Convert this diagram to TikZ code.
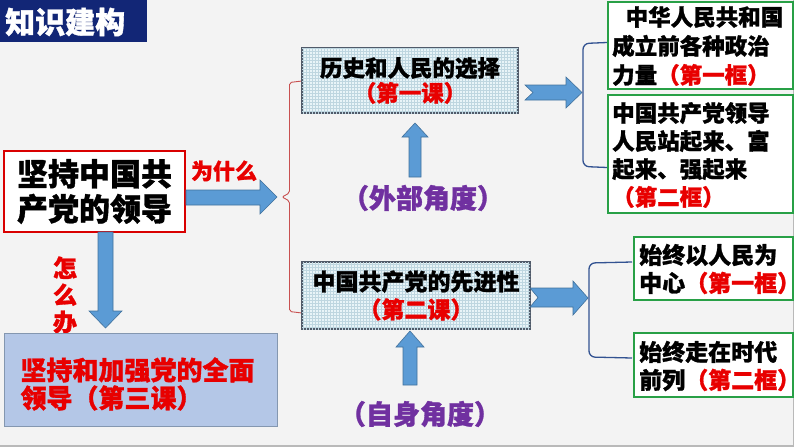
\documentclass[tikz,border=0pt]{standalone}
\usepackage{fontspec}
\setmainfont{Noto Sans CJK SC}[BoldFeatures={FakeBold=1.2}]
\usetikzlibrary{patterns}
\definecolor{bgcol}{RGB}{243,243,243}
\definecolor{navy}{RGB}{18,38,118}
\definecolor{myred}{RGB}{232,0,0}
\definecolor{mypurple}{RGB}{112,48,160}
\definecolor{afill}{RGB}{91,155,213}
\definecolor{abord}{RGB}{65,113,156}
\definecolor{mygreen}{RGB}{40,160,70}
\definecolor{bfill}{RGB}{180,199,231}
\definecolor{bbord}{RGB}{132,151,176}
\definecolor{lfill}{RGB}{232,244,248}
\definecolor{lgrid}{RGB}{190,214,224}
\definecolor{lbord}{RGB}{80,90,105}
\definecolor{bracered}{RGB}{200,80,80}
\definecolor{bracketblue}{RGB}{50,82,145}
\tikzset{
  blockarrow/.style={fill=afill, draw=abord, line width=0.6pt, line join=miter},
  lesson/.style={draw=lbord, line width=2.4pt, fill=lfill,
    postaction={pattern=grid, pattern color=lgrid}, align=center, inner sep=0pt},
  gbox/.style={draw=mygreen, line width=1.5pt, fill=white, inner sep=0pt},
  gtext/.style={anchor=west, align=left, inner sep=0pt},
  redbrace/.style={draw=bracered, line width=0.9pt, rounded corners=2pt},
  bluebracket/.style={draw=bracketblue, line width=1.3pt, rounded corners=6pt},
}
\begin{document}
\begin{tikzpicture}[x=1pt,y=-1pt,font=\bfseries]
\useasboundingbox (0,0) rectangle (794,447);
\fill[bgcol] (0,0) rectangle (794,447);
\draw[gray!55, line width=1.5pt] (0,446) -- (794,446);
\draw[gray!55, line width=1pt] (793.5,0) -- (793.5,447);

% title
\fill[navy] (0,0) rectangle (147,42);
\node[anchor=west, text=white, inner sep=0pt, font=\bfseries\fontsize{30}{30}\selectfont] (title) at (5,22) {知识建构};

% main box
\node[draw=red!85!black, line width=1.2pt, fill=white, minimum width=181pt, minimum height=81pt,
  align=center, inner sep=0pt, font=\bfseries\fontsize{31}{35}\selectfont] (main) at (94.5,191.5) {坚持中国共\\产党的领导};

% why label
\node[text=myred, inner sep=0pt, font=\bfseries\fontsize{22}{22}\selectfont] (why) at (224,171) {为什么};

% how label
\node[text=myred, align=center, inner sep=0pt, font=\bfseries\fontsize{24}{27}\selectfont] (howlbl) at (65,295) {怎\\么\\办};

% bottom box
\node[draw=bbord, line width=1pt, fill=bfill, minimum width=273pt, minimum height=93pt] (how) at (140.5,379.5) {};
\node[text=myred, align=left, text width=241pt, inner sep=0pt, font=\bfseries\fontsize{26}{28}\selectfont] (howtxt) at (141,384) {坚持和加强党的全面\\领导（第三课）};

% arrows from main box
\draw[blockarrow] (186,190) -- (260,190) -- (260,180) -- (277,197) -- (260,214) -- (260,205) -- (186,205) -- cycle;
\draw[blockarrow] (98,232) -- (113,232) -- (113,311) -- (122,311) -- (105.5,328) -- (89,311) -- (98,311) -- cycle;

% red brace
\coordinate (bt) at (302,81);
\coordinate (bb) at (302,313);
\draw[redbrace] (bt) -- (289.5,82.5) -- (289.5,193) -- (282,197) -- (289.5,201) -- (289.5,311.5) -- (bb);

% lesson boxes
\node[lesson, minimum width=216pt, minimum height=65pt, font=\bfseries\fontsize{22.5}{25}\selectfont] (l1) at (410,80.5)
  {历史和人民的选择\\\textcolor{myred}{（第一课）}};
\node[lesson, minimum width=228pt, minimum height=67pt, font=\bfseries\fontsize{23}{28}\selectfont] (l2) at (416,295.5)
  {中国共产党的先进性\\\textcolor{myred}{（第二课）}};

% up arrows and angle labels
\draw[blockarrow] (409,177) -- (421,177) -- (421,137) -- (428,137) -- (415,123) -- (402,137) -- (409,137) -- cycle;
\node[text=mypurple, inner sep=0pt, font=\bfseries\fontsize{27}{27}\selectfont] (ext) at (423,198) {（外部角度）};
\draw[blockarrow] (403,385) -- (417,385) -- (417,347) -- (424,347) -- (410,331) -- (396,347) -- (403,347) -- cycle;
\node[text=mypurple, inner sep=0pt, font=\bfseries\fontsize{27}{27}\selectfont] (self) at (420,414) {（自身角度）};

% notched arrows to the right
\draw[blockarrow] (525,85) -- (566,85) -- (566,77) -- (582,92.5) -- (566,108) -- (566,100) -- (525,100) -- (533,92.5) -- cycle;
\draw[blockarrow] (530,288) -- (573,288) -- (573,281) -- (588,298) -- (573,315) -- (573,307) -- (530,307) -- (538,297.5) -- cycle;

% blue brackets
\draw[bluebracket] (607,42.5) -- (583,43.5) -- (583,166.5) -- (607,167.5);
\draw[bluebracket] (632,262) -- (589,263) -- (589,357) -- (632,358);

% green boxes
\node[gbox, minimum width=185pt, minimum height=87pt] (g1) at (700.5,45.5) {};
\node[gtext, font=\bfseries\fontsize{22.5}{29}\selectfont] (g1t) at (612,46)
  {\hspace{0.6em}中华人民共和国\\成立前各种政治\\力量\textcolor{myred}{（第一框）}};
\node[gbox, minimum width=185pt, minimum height=118pt] (g2) at (700.5,154) {};
\node[gtext, font=\bfseries\fontsize{22.5}{28}\selectfont] (g2t) at (612,155)
  {中国共产党领导\\人民站起来、富\\起来、强起来\\\textcolor{myred}{（第二框）}};
\node[gbox, minimum width=159pt, minimum height=63pt] (g3) at (713.5,268.5) {};
\node[gtext, font=\bfseries\fontsize{23}{28}\selectfont] (g3t) at (639,269)
  {始终以人民为\\中心\textcolor{myred}{（第一框）}};
\node[gbox, minimum width=159pt, minimum height=64pt] (g4) at (713.5,365) {};
\node[gtext, font=\bfseries\fontsize{23}{28}\selectfont] (g4t) at (639,366)
  {始终走在时代\\前列\textcolor{myred}{（第二框）}};
\end{tikzpicture}
\end{document}
